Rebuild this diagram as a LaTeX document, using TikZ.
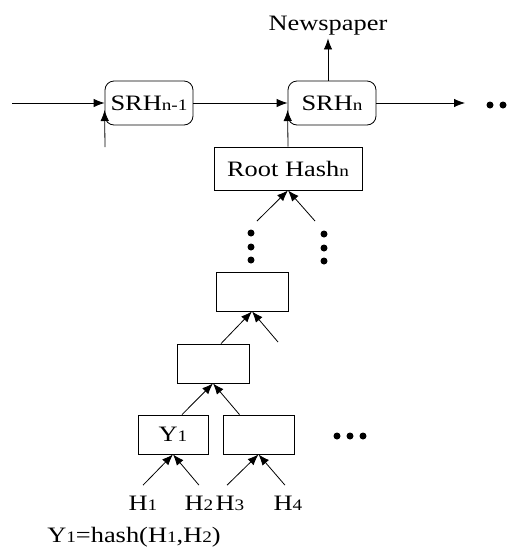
\documentclass[tikz,border=0pt]{standalone}
\usepackage{fontspec}
\setmainfont{Liberation Serif}[FakeStretch=1.2]
\usetikzlibrary{arrows.meta,calc}

% small index glyphs kept on the baseline
\newcommand{\idx}[1]{{\fontsize{16}{16}\selectfont #1}}

\begin{document}
\begin{tikzpicture}[
    x=1pt, y=-1pt,
    line width=0.8pt,
    font=\fontsize{22}{24}\selectfont,
    srhbox/.style={draw, rounded corners=9pt, minimum width=88pt, minimum height=44pt, inner sep=0pt},
    hashbox/.style={draw, minimum width=72pt, minimum height=39pt, inner sep=0pt},
    leaflabel/.style={anchor=base, inner xsep=0pt, inner ysep=10pt},
    conn/.style={-{Latex[length=11pt,width=8.5pt]}}
    ]
    \useasboundingbox (0,0) rectangle (513,547);

    % chain of signed root hashes
    \node [srhbox] (srhA) at (149,103) {SRH\idx{n-1}};
    \node [srhbox] (srhB) at (332,103) {SRH\idx{n}};
    \node [anchor=base] (news) at (328,30) {Newspaper};
    \coordinate (chainIn) at (12,103);
    \coordinate (chainFeed) at (105,147);
    \coordinate (chainOut) at (465,103);

    \draw [conn] (chainIn) -- (srhA.west);
    \draw [conn] (chainFeed) -- ($(srhA.west)+(0,7)$);
    \draw [conn] (srhA) -- (srhB);
    \draw [conn] (srhB) -- (chainOut);
    \draw [conn] (news |- srhB.north) -- (news);
    \fill (490,105) circle (3.5);
    \fill (503,105) circle (3.5);

    % hash tree
    \node [draw, minimum width=148pt, minimum height=43pt, inner sep=0pt] (root) at (288,168.5) {Root Hash\idx{n}};
    \draw [conn] (root.north) -- ($(srhB.west)+(0,7)$);

    \coordinate (rootL) at (257,221);
    \coordinate (rootR) at (315,221);
    \draw [conn] (rootL) -- (root.south);
    \draw [conn] (rootR) -- (root.south);
    \foreach \y in {233,247,260} {
        \fill (251,\y) circle (3.5);
        \fill (324,\y+1) circle (3.5);
    }

    \node [hashbox] (mid) at (252,291.5) {};
    \node [hashbox] (low) at (213,363.5) {};
    \node [hashbox, minimum width=70pt] (yA) at (173,434.5) {Y\idx{1}};
    \node [hashbox, minimum width=71pt] (yB) at (258.5,434.5) {};

    \coordinate (midR) at (278,342);
    \draw [conn] ($(low.north)+(8,0)$) -- (mid.south);
    \draw [conn] (midR) -- (mid.south);
    \draw [conn] ($(yA.north)+(9,0)$) -- (low.south);
    \draw [conn] ($(yB.north)+(-19,0)$) -- (low.south);
    \foreach \x in {337,350,363}
        \fill (\x,436) circle (3.5);

    % leaves
    \node [leaflabel] (hA) at (143,510) {H\idx{1}};
    \node [leaflabel] (hB) at (199,510) {H\idx{2}};
    \node [leaflabel] (hC) at (230,510) {H\idx{3}};
    \node [leaflabel] (hD) at (288,510) {H\idx{4}};
    \draw [conn] (hA.north) -- (yA.south);
    \draw [conn] (hB.north) -- (yA.south);
    \draw [conn] ($(hC.north)+(-3,0)$) -- (yB.south);
    \draw [conn] ($(hD.north)+(-3,0)$) -- (yB.south);

    \node [anchor=base] (formula) at (134,542) {Y\idx{1}=hash(H\idx{1},H\idx{2})};
\end{tikzpicture}
\end{document}
